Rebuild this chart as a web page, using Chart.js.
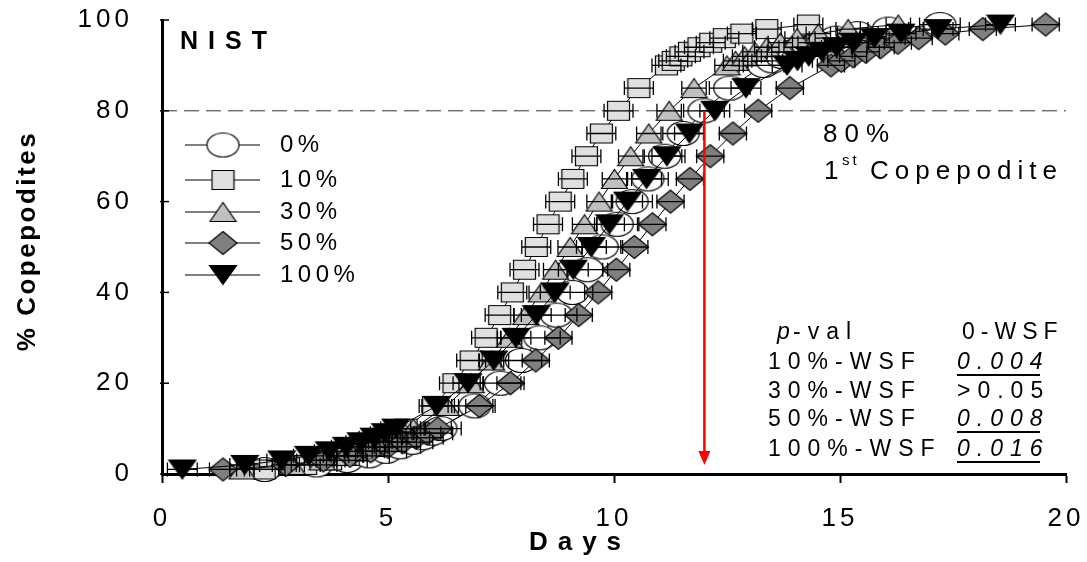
<!DOCTYPE html>
<html>
<head>
<meta charset="utf-8">
<script src="https://cdn.jsdelivr.net/npm/chart.js@4.4.0/dist/chart.umd.min.js"></script>
<style>
    html, body { margin: 0; padding: 0; background: #fff; }
    #wrap { width: 1087px; height: 562px; position: relative; }
</style>
</head>
<body>
<div id="wrap"><canvas id="myChart"></canvas></div>
<script>
// % reaching 1st copepodite (y) and the day it is reached (x), one array per WSF treatment
const levels = [1, 2, 3, 4, 5, 6, 7, 8, 9, 10, 15, 20, 25, 30, 35, 40, 45, 50, 55, 60, 65, 70, 75, 80, 85, 90, 91, 92, 93, 94, 95, 96, 97, 98, 99];
const days0 = [2.27, 3.42, 4.09, 4.58, 4.96, 5.27, 5.54, 5.77, 5.98, 6.17, 6.92, 7.49, 7.95, 8.36, 8.73, 9.08, 9.41, 9.74, 10.07, 10.40, 10.75, 11.12, 11.53, 11.99, 12.56, 13.31, 13.50, 13.71, 13.94, 14.21, 14.52, 14.90, 15.39, 16.07, 17.21];
const days10 = [2.26, 3.18, 3.73, 4.12, 4.42, 4.68, 4.89, 5.08, 5.25, 5.40, 6.01, 6.46, 6.84, 7.17, 7.47, 7.75, 8.02, 8.28, 8.54, 8.81, 9.09, 9.39, 9.72, 10.10, 10.55, 11.16, 11.31, 11.48, 11.67, 11.88, 12.14, 12.44, 12.83, 13.38, 14.30];
const days30 = [1.77, 2.88, 3.54, 4.01, 4.38, 4.68, 4.94, 5.17, 5.37, 5.56, 6.29, 6.84, 7.29, 7.69, 8.05, 8.39, 8.71, 9.03, 9.35, 9.67, 10.01, 10.37, 10.77, 11.22, 11.77, 12.50, 12.69, 12.89, 13.12, 13.38, 13.68, 14.05, 14.52, 15.18, 16.29];
const days50 = [1.35, 2.74, 3.57, 4.16, 4.62, 5.00, 5.33, 5.62, 5.87, 6.10, 7.02, 7.71, 8.27, 8.77, 9.22, 9.65, 10.05, 10.45, 10.85, 11.25, 11.68, 12.13, 12.63, 13.19, 13.89, 14.80, 15.03, 15.29, 15.57, 15.90, 16.28, 16.74, 17.33, 18.16, 19.55];
const days100 = [0.45, 1.83, 2.65, 3.24, 3.70, 4.08, 4.40, 4.69, 4.94, 5.17, 6.08, 6.77, 7.34, 7.83, 8.28, 8.70, 9.10, 9.50, 9.90, 10.30, 10.72, 11.17, 11.67, 12.23, 12.92, 13.83, 14.06, 14.31, 14.60, 14.92, 15.30, 15.76, 16.35, 17.17, 18.55];
// half width of the horizontal error bars (days)
const ciHalf = [0.45, 0.32, 0.27, 0.3, 0.33];
const seriesLabels = ['0%', '10%', '30%', '50%', '100%'];

const xTicks = [0, 5, 10, 15, 20];
const yTicks = [0, 20, 40, 60, 80, 100];
const refLevel = 80;     // dashed line
const arrowDay = 12;     // red arrow
const arrowTo = 2;

const pRows = ['10%-WSF', '30%-WSF', '50%-WSF', '100%-WSF'];
const pVals = ['0.004', '>0.05', '0.008', '0.016'];
const pSig = [true, false, true, true];

const FONT = "'Liberation Sans', Arial, sans-serif";

function makeMarker(kind, fill, w, h) {
    const c = document.createElement('canvas');
    c.width = w + 3;
    c.height = h + 3;
    const g = c.getContext('2d');
    const cx = c.width / 2, cy = c.height / 2;
    g.fillStyle = fill;
    g.strokeStyle = '#000';
    g.lineWidth = 1.2;
    g.beginPath();
    if (kind === 'ellipse') {
        g.ellipse(cx, cy, w / 2, h / 2, 0, 0, Math.PI * 2);
    } else if (kind === 'square') {
        g.rect(cx - w / 2, cy - h / 2, w, h);
    } else if (kind === 'tri') {
        g.moveTo(cx, cy - h / 2); g.lineTo(cx + w / 2, cy + h / 2); g.lineTo(cx - w / 2, cy + h / 2); g.closePath();
    } else if (kind === 'itri') {
        g.moveTo(cx, cy + h / 2); g.lineTo(cx + w / 2, cy - h / 2); g.lineTo(cx - w / 2, cy - h / 2); g.closePath();
    } else {
        g.moveTo(cx, cy - h / 2); g.lineTo(cx + w / 2, cy); g.lineTo(cx, cy + h / 2); g.lineTo(cx - w / 2, cy); g.closePath();
    }
    g.fill();
    g.stroke();
    return c;
}

const markers = [
    makeMarker('ellipse', '#ffffff', 32, 24),
    makeMarker('square', '#e0e0e0', 22, 19),
    makeMarker('tri', '#c0c0c0', 26, 19),
    makeMarker('diamond', '#808080', 28, 23),
    makeMarker('itri', '#000000', 27, 19)
];

const allDays = [days0, days10, days30, days50, days100];
const drawOrder = [5, 4, 3, 2, 1];

const datasets = allDays.map((d, i) => ({
    label: seriesLabels[i],
    data: d.map((v, k) => ({ x: v, y: levels[k] })),
    showLine: true,
    borderColor: '#000',
    borderWidth: 1,
    pointStyle: markers[i],
    pointRadius: 12,
    order: drawOrder[i],
    clip: false,
    ciHalf: ciHalf[i]
}));

function txt(ctx, s, x, y, font, spacing, align) {
    ctx.save();
    ctx.font = font;
    ctx.letterSpacing = spacing + 'px';
    ctx.textAlign = align || 'left';
    ctx.textBaseline = 'middle';
    ctx.fillStyle = '#000';
    ctx.fillText(s, x, y);
    ctx.restore();
}

// keep tick label overflow from moving the plot area
function noPad(s) {
    s.paddingLeft = 0;
    s.paddingRight = 0;
    s.paddingTop = 0;
    s.paddingBottom = 0;
}

const extras = {
    id: 'extras',
    beforeDraw(chart) {
        chart.ctx.letterSpacing = '4px';
    },
    beforeDatasetsDraw(chart) {
        const { ctx, chartArea, scales } = chart;
        const y = scales.y.getPixelForValue(refLevel);
        ctx.save();
        ctx.letterSpacing = '0px';
        ctx.strokeStyle = '#333';
        ctx.lineWidth = 1;
        ctx.setLineDash([15, 7]);
        ctx.beginPath();
        ctx.moveTo(chartArea.left, y);
        ctx.lineTo(chartArea.right, y);
        ctx.stroke();
        ctx.restore();
    },
    afterDatasetsDraw(chart) {
        const { ctx, scales } = chart;
        const xs = scales.x, ys = scales.y;
        ctx.save();
        ctx.strokeStyle = '#000';
        ctx.lineWidth = 1.3;
        chart.data.datasets.forEach(ds => {
            ds.data.forEach(p => {
                const y = ys.getPixelForValue(p.y);
                const x1 = xs.getPixelForValue(p.x - ds.ciHalf);
                const x2 = xs.getPixelForValue(p.x + ds.ciHalf);
                ctx.beginPath();
                ctx.moveTo(x1, y); ctx.lineTo(x2, y);
                ctx.moveTo(x1, y - 7); ctx.lineTo(x1, y + 7);
                ctx.moveTo(x2, y - 7); ctx.lineTo(x2, y + 7);
                ctx.stroke();
            });
        });
        // red arrow
        const ax = xs.getPixelForValue(arrowDay);
        const ay1 = ys.getPixelForValue(refLevel);
        const ay2 = ys.getPixelForValue(arrowTo);
        ctx.strokeStyle = '#ff0000';
        ctx.fillStyle = '#ff0000';
        ctx.lineWidth = 2.5;
        ctx.beginPath();
        ctx.moveTo(ax, ay1);
        ctx.lineTo(ax, ay2 - 12);
        ctx.stroke();
        ctx.beginPath();
        ctx.moveTo(ax, ay2);
        ctx.lineTo(ax - 6, ay2 - 14);
        ctx.lineTo(ax + 6, ay2 - 14);
        ctx.closePath();
        ctx.fill();
        ctx.restore();
    },
    afterDraw(chart) {
        const { ctx, scales } = chart;
        // inward y tick marks
        ctx.save();
        ctx.strokeStyle = '#000';
        ctx.lineWidth = 1.5;
        yTicks.forEach(t => {
            const y = scales.y.getPixelForValue(t);
            ctx.beginPath();
            ctx.moveTo(scales.y.right - 2, y);
            ctx.lineTo(scales.y.right + 7, y);
            ctx.stroke();
        });
        ctx.restore();

        // axis titles
        txt(ctx, 'Days', 580, 543, 'bold 26px ' + FONT, 10, 'center');
        ctx.save();
        ctx.translate(28, 241);
        ctx.rotate(-Math.PI / 2);
        txt(ctx, '% Copepodites', 0, 0, 'bold 26px ' + FONT, 2.5, 'center');
        ctx.restore();

        txt(ctx, 'NIST', 180, 42, 'bold 25px ' + FONT, 10);

        // legend
        const rows = [145, 180, 212, 243, 275];
        chart.data.datasets.forEach((ds, i) => {
            const y = rows[i];
            ctx.save();
            ctx.strokeStyle = '#000';
            ctx.lineWidth = 1;
            ctx.beginPath();
            ctx.moveTo(185, y); ctx.lineTo(260, y);
            ctx.stroke();
            const m = ds.pointStyle;
            ctx.drawImage(m, 223 - m.width / 2, y - m.height / 2);
            ctx.restore();
            txt(ctx, ds.label, 280, y, '24px ' + FONT, 4.5);
        });

        // 80% annotation
        txt(ctx, '80%', 823, 135, '26px ' + FONT, 7);
        txt(ctx, '1', 824, 172, '26px ' + FONT, 6);
        txt(ctx, 'st', 842, 161, '15px ' + FONT, 3);
        txt(ctx, 'Copepodite', 870, 172, '26px ' + FONT, 6);

        // p-value table
        txt(ctx, 'p', 777, 333, 'italic 23px ' + FONT, 7);
        txt(ctx, '-val', 793, 333, '23px ' + FONT, 7);
        txt(ctx, '0-WSF', 962, 333, '23px ' + FONT, 6);
        const ry = [363, 392, 420, 450];
        pRows.forEach((r, i) => {
            txt(ctx, r, 768, ry[i], '23px ' + FONT, 7);
            txt(ctx, pVals[i], 957, ry[i], (pSig[i] ? 'italic ' : '') + '23px ' + FONT, 7);
            if (pSig[i]) {
                ctx.save();
                ctx.strokeStyle = '#000';
                ctx.lineWidth = 2;
                ctx.beginPath();
                ctx.moveTo(957, ry[i] + 12);
                ctx.lineTo(1040, ry[i] + 12);
                ctx.stroke();
                ctx.restore();
            }
        });
    }
};

const ctx = document.getElementById('myChart');
new Chart(ctx, {
    type: 'scatter',
    data: { datasets: datasets },
    options: {
        responsive: true,
        maintainAspectRatio: false,
        animation: false,
        events: [],
        layout: {
            padding: { top: 20, right: 21, left: 0, bottom: 0 }
        },
        plugins: {
            legend: { display: false },
            tooltip: { enabled: false }
        },
        scales: {
            x: {
                type: 'linear',
                min: 0,
                max: 20,
                border: { color: '#000', width: 3 },
                grid: { drawOnChartArea: false, drawTicks: true, tickLength: 9, tickWidth: 2, tickColor: '#000' },
                ticks: {
                    stepSize: 5,
                    color: '#000',
                    padding: 20,
                    maxRotation: 0,
                    font: { family: FONT, size: 26 }
                },
                afterBuildTicks: s => { s.ticks = xTicks.map(v => ({ value: v })); },
                afterFit: s => { s.height = 88; noPad(s); }
            },
            y: {
                type: 'linear',
                min: 0,
                max: 100,
                border: { color: '#000', width: 3 },
                grid: { drawOnChartArea: false, drawTicks: false },
                ticks: {
                    stepSize: 20,
                    color: '#000',
                    padding: 29,
                    font: { family: FONT, size: 26 }
                },
                afterBuildTicks: s => { s.ticks = yTicks.map(v => ({ value: v })); },
                afterFit: s => { s.width = 162; noPad(s); }
            }
        }
    },
    plugins: [extras]
});
</script>
</body>
</html>
